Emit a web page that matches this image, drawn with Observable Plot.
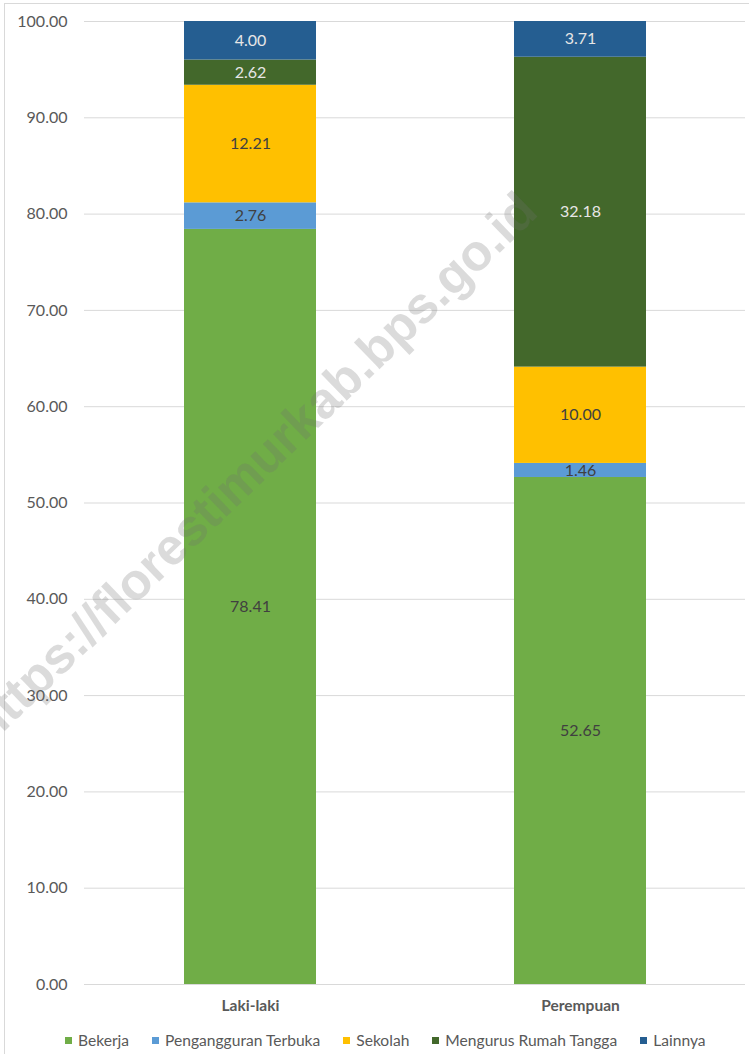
<!DOCTYPE html>
<html>
<head>
<meta charset="utf-8">
<script src="https://cdn.jsdelivr.net/npm/d3@7"></script>
<script src="https://cdn.jsdelivr.net/npm/@observablehq/plot@0.6"></script>
<style>
  html, body { margin: 0; padding: 0; background: #fff; }
  body { width: 749px; height: 1054px; position: relative; overflow: hidden; font-family: Lato, "Open Sans", sans-serif; }
  #frame { position: absolute; left: 4px; top: 3px; width: 800px; height: 1100px; border: 1px solid #d9d9d9; box-sizing: border-box; pointer-events: none; }
  #chart { position: absolute; left: 0; top: 0; }
  #legend { position: absolute; left: 65px; top: 1031px; display: flex; align-items: center; font-size: 15.6px; color: #595959; white-space: nowrap; }
  #legend .item { display: flex; align-items: center; margin-right: 23px; }
  #legend .sw { width: 7px; height: 7px; margin-right: 6px; }
  #wm { position: absolute; left: 0; top: 0; pointer-events: none; }
</style>
</head>
<body>
<div id="frame"></div>
<div id="chart"></div>
<div id="legend"></div>
<svg id="wm" width="749" height="1054"></svg>
<script>
const categories = ["Laki-laki", "Perempuan"];
const series = ["Bekerja", "Pengangguran Terbuka", "Sekolah", "Mengurus Rumah Tangga", "Lainnya"];
const lakiValues = [78.41, 2.76, 12.21, 2.62, 4.00];
const perempuanValues = [52.65, 1.46, 10.00, 32.18, 3.71];
const seriesColors = ["#70ad47", "#5b9bd5", "#ffc000", "#43682b", "#255e91"];
const labelColors = ["#404040", "#404040", "#404040", "#e7e6e6", "#e7e6e6"];
const yTicks = [0, 10, 20, 30, 40, 50, 60, 70, 80, 90, 100];

const valuesByCat = [lakiValues, perempuanValues];
const data = [];
categories.forEach((c, ci) => {
  series.forEach((s, si) => {
    data.push({cat: c, series: s, value: valuesByCat[ci][si], labelColor: labelColors[si]});
  });
});

const chart = Plot.plot({
  width: 749,
  height: 1026,
  marginTop: 21,
  marginBottom: 42,
  marginLeft: 84,
  marginRight: 4,
  style: {fontFamily: "Lato, 'Open Sans', sans-serif", background: "transparent"},
  x: {domain: categories, paddingInner: 0.6, paddingOuter: 0.3, label: null},
  y: {domain: [0, 100], label: null},
  color: {domain: series, range: seriesColors},
  marks: [
    Plot.gridY(yTicks, {stroke: "#d9d9d9", strokeOpacity: 1, strokeWidth: 1}),
    Plot.barY(data, Plot.stackY({x: "cat", y: "value", fill: "series", order: null})),
    Plot.text(data, Plot.stackY({x: "cat", y: "value", z: "series", order: null,
      text: d => d.value.toFixed(2), fill: "labelColor", fontSize: 16})),
    Plot.axisY(yTicks, {tickSize: 0, tickPadding: 17, tickFormat: d3.format(".2f"), fontSize: 16, fill: "#595959", label: null}),
    Plot.axisX({tickSize: 0, tickPadding: 15, fontSize: 15.5, fontWeight: "bold", fill: "#595959", label: null})
  ]
});
document.getElementById("chart").appendChild(chart);

const legend = document.getElementById("legend");
series.forEach((s, i) => {
  const it = document.createElement("div");
  it.className = "item";
  const sw = document.createElement("div");
  sw.className = "sw";
  sw.style.background = seriesColors[i];
  const tx = document.createElement("span");
  tx.textContent = s;
  it.appendChild(sw);
  it.appendChild(tx);
  legend.appendChild(it);
});

// watermark
const wm = d3.select("#wm");
wm.append("text")
  .attr("transform", "translate(540,214) rotate(-44)")
  .attr("text-anchor", "end")
  .attr("font-family", "'Liberation Sans', Arial, sans-serif")
  .attr("font-weight", "bold")
  .attr("font-size", 51)
  .attr("fill", "rgba(110,110,110,0.25)")
  .text("https://florestimurkab.bps.go.id");
</script>
</body>
</html>
